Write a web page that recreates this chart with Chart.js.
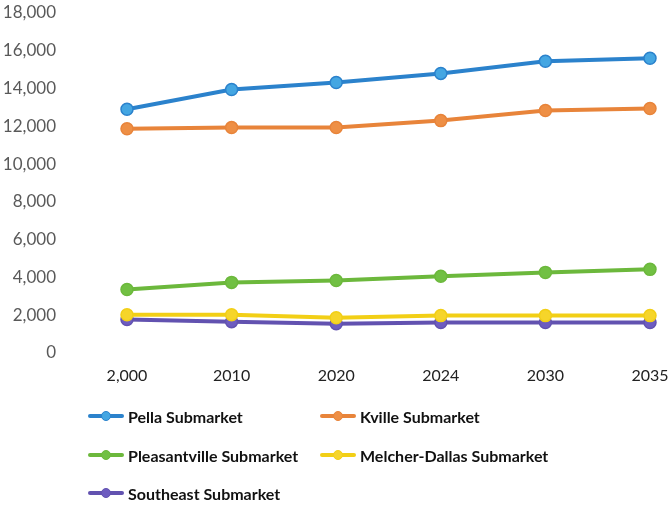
<!DOCTYPE html>
<html>
<head>
    <meta charset="utf-8">
    <title>Submarket Population</title>
    <script src="https://cdn.jsdelivr.net/npm/chart.js@4/dist/chart.umd.min.js"></script>
    <style>
        body { margin: 0; background: #fff; font-family: Lato, sans-serif; }
        #wrap { position: relative; width: 671px; height: 506px; }
        #chartBox { position: absolute; left: 0; top: 0; width: 671px; height: 398px; }
        #legend { position: absolute; left: 0; top: 396px; width: 671px; height: 110px; }
        .item { position: absolute; height: 20px; display: flex; align-items: center;
                font-weight: bold; font-size: 16px; color: #111; white-space: nowrap; }
        .sw { position: relative; width: 36px; height: 20px; margin-right: 4px; }
        .sw .ln { position: absolute; left: 0; top: 8px; width: 36px; height: 4px; border-radius: 2px; }
        .sw .dt { position: absolute; left: 13px; top: 5px; width: 10px; height: 10px; border-radius: 50%; }
    </style>
</head>
<body>
<div id="wrap">
    <div id="chartBox"><canvas id="line-chart"></canvas></div>
    <div id="legend"></div>
</div>
<script>
    var years = ['2,000', '2010', '2020', '2024', '2030', '2035'];
    var seriesNames = ['Pella Submarket', 'Kville Submarket', 'Pleasantville Submarket',
        'Melcher-Dallas Submarket', 'Southeast Submarket'];
    var pella = [12900, 13950, 14320, 14800, 15440, 15600];
    var kville = [11870, 11930, 11930, 12300, 12830, 12940];
    var pleasantville = [3350, 3730, 3830, 4050, 4260, 4420];
    var melcherDallas = [2020, 2020, 1860, 1970, 1970, 1970];
    var southeast = [1760, 1650, 1540, 1600, 1600, 1600];
    var yTicks = [0, 2000, 4000, 6000, 8000, 10000, 12000, 14000, 16000, 18000];

    var lineColors = ['#2b82cc', '#e8843a', '#6cb83c', '#f2cf16', '#6252b0'];
    var dotColors = ['#44a6e2', '#ee8f45', '#71c043', '#f6d52a', '#6d5cc0'];
    var values = [pella, kville, pleasantville, melcherDallas, southeast];

    var datasets = seriesNames.map(function (name, i) {
        return {
            label: name,
            data: values[i],
            borderColor: lineColors[i],
            backgroundColor: dotColors[i],
            pointBackgroundColor: dotColors[i],
            pointBorderColor: lineColors[i],
            pointBorderWidth: 1.5,
            pointRadius: 6,
            borderWidth: 4,
            fill: false,
            tension: 0
        };
    });

    var config = {
        type: 'line',
        data: { labels: years, datasets: datasets },
        options: {
            responsive: true,
            maintainAspectRatio: false,
            animation: false,
            layout: { padding: { top: 13, right: 21, bottom: 0, left: 0 } },
            plugins: { legend: { display: false }, tooltip: { enabled: false } },
            scales: {
                x: {
                    offset: false,
                    grid: { display: false, drawTicks: false },
                    border: { display: false },
                    afterFit: function (axis) {
                        axis.paddingLeft = 0;
                        axis.paddingRight = 0;
                    },
                    ticks: { color: '#222', font: { family: 'Lato', size: 16 }, padding: 13, maxRotation: 0 }
                },
                y: {
                    min: yTicks[0],
                    max: yTicks[yTicks.length - 1],
                    grid: { display: false, drawTicks: false },
                    border: { display: false },
                    afterBuildTicks: function (axis) {
                        axis.ticks = yTicks.map(function (v) { return { value: v }; });
                    },
                    afterFit: function (axis) {
                        // wide axis so the first year sits well right of the labels
                        axis.width = 127;
                        axis.paddingTop = 0;
                        axis.paddingBottom = 0;
                    },
                    ticks: {
                        color: '#595959',
                        padding: 71,
                        font: { family: 'Lato', size: 17 },
                        callback: function (v) { return Number(v).toLocaleString('en-US'); }
                    }
                }
            }
        }
    };

    var chart = new Chart(document.getElementById('line-chart'), config);

    // legend in two columns like the original
    var legendPos = [[88, 10], [320, 10], [88, 49], [320, 49], [88, 87]];
    var legend = document.getElementById('legend');
    seriesNames.forEach(function (name, i) {
        var item = document.createElement('div');
        item.className = 'item';
        item.style.left = legendPos[i][0] + 'px';
        item.style.top = legendPos[i][1] + 'px';
        item.innerHTML = '<span class="sw"><span class="ln" style="background:' + lineColors[i] +
            '"></span><span class="dt" style="background:' + dotColors[i] + ';border:1px solid ' +
            lineColors[i] + ';box-sizing:border-box"></span></span>' + name;
        legend.appendChild(item);
    });
</script>
</body>
</html>
